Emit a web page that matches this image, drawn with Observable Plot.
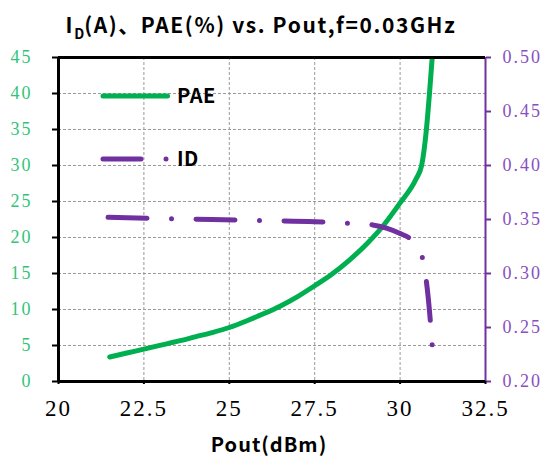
<!DOCTYPE html>
<html>
<head>
<meta charset="utf-8">
<script src="https://cdn.jsdelivr.net/npm/d3@7"></script>
<script src="https://cdn.jsdelivr.net/npm/@observablehq/plot@0.6"></script>
<style>
  html, body { margin: 0; padding: 0; background: white; }
  #wrap { position: relative; width: 549px; height: 460px; overflow: hidden; background: white; }
  #title { position: absolute; left: 0; top: 14px; width: 522px; text-align: center;
    font-family: "Noto Sans CJK SC", sans-serif; font-weight: bold; font-size: 21px; letter-spacing: 1.6px; line-height: 1; color: #000; white-space: nowrap; }
  #title .sub { font-size: 14px; position: relative; top: 6px; letter-spacing: 0; }
  #chart { position: absolute; left: 0; top: 46px; }
  #xlabel { position: absolute; left: 169px; width: 200px; top: 434px; text-align: center;
    font-family: "Noto Sans CJK SC", sans-serif; font-weight: bold; font-size: 20px; letter-spacing: 1px; line-height: 1; color: #000; }
  #legend { position: absolute; left: 0; top: 0; pointer-events: none; }
</style>
</head>
<body>
<div id="wrap">
  <div id="title">I<span class="sub">D</span>(A)、PAE(%) vs. Pout,f=0.03GHz</div>
  <div id="chart"></div>
  <div id="xlabel">Pout(dBm)</div>
  <svg id="legend" width="549" height="460"></svg>
</div>
<script>
// ---- data ----
const paeX = [21.5, 22, 22.5, 23, 23.5, 24, 24.5, 25, 25.5, 26, 26.5, 27, 27.5, 28, 28.5, 29, 29.5, 30, 30.47, 30.63, 30.77, 30.86, 30.94];
const paeY = [3.4, 3.95, 4.5, 5.05, 5.6, 6.2, 6.8, 7.5, 8.4, 9.4, 10.5, 11.8, 13.3, 14.9, 16.8, 19.0, 21.6, 24.8, 28.15, 30.0, 35, 40, 45];
const idX = [21.45, 23, 24.5, 26, 27.5, 28.5, 29.2, 29.6, 30.0, 30.3, 30.5, 30.65, 30.76, 30.88, 30.94];
const idY = [0.352, 0.351, 0.350, 0.349, 0.348, 0.3465, 0.345, 0.342, 0.337, 0.332, 0.324, 0.315, 0.295, 0.258, 0.233];
const xTicks = [20, 22.5, 25, 27.5, 30, 32.5];
const leftTicks = [0, 5, 10, 15, 20, 25, 30, 35, 40, 45];
const rightTicks = [0.20, 0.25, 0.30, 0.35, 0.40, 0.45, 0.50];
const seriesNames = ["PAE", "ID"];

const green = "#00b050";
const greenText = "#33c47a";
const purple = "#7030a0";
const purpleText = "#8a4fbf";

const idMin = 0.2, idMax = 0.5, leftMax = 45;
const idToLeft = v => (v - idMin) / (idMax - idMin) * leftMax;
const leftToId = v => v / leftMax * (idMax - idMin) + idMin;

const pae = paeX.map((x, i) => ({x, y: paeY[i]}));
const ids = idX.map((x, i) => ({x, y: idY[i]}));

const gridStyle = {stroke: "#9a9a9a", strokeOpacity: 1, strokeDasharray: "3,2", strokeWidth: 1};
const tickFont = "'Liberation Serif', serif";
const idDash = "39,24.5,0,24.5";

const chart = Plot.plot({
  width: 549,
  height: 414,
  marginLeft: 58,
  marginRight: 64,
  marginTop: 11,
  marginBottom: 79,
  style: {background: "white", overflow: "visible", fontFamily: tickFont},
  x: {domain: [20, 32.5]},
  y: {domain: [0, 45]},
  marks: [
    Plot.gridX(xTicks.slice(1, -1), gridStyle),
    Plot.gridY(leftTicks.slice(1, -1), gridStyle),
    Plot.axisY(leftTicks, {anchor: "left", tickSize: 6, tickPadding: 20, stroke: "black", strokeWidth: 2, fill: greenText,
      fontSize: 18, fontFamily: tickFont, label: null, tickFormat: d => String(d)}),
    Plot.axisY(rightTicks.map(idToLeft), {anchor: "right", tickSize: 5, tickPadding: 12, stroke: purple, strokeWidth: 2, fill: purpleText,
      fontSize: 18, fontFamily: tickFont, label: null, tickFormat: v => leftToId(v).toFixed(2)}),
    Plot.axisX(xTicks, {anchor: "bottom", tickSize: 3, tickPadding: 15, stroke: "black", strokeWidth: 2, fill: "black",
      fontSize: 23, fontFamily: tickFont, label: null, tickFormat: d => String(d)}),
    Plot.line(pae, {x: "x", y: "y", stroke: green, strokeWidth: 5, curve: "monotone-x", clip: true}),
    Plot.line(ids, {x: "x", y: d => idToLeft(d.y), stroke: purple, strokeWidth: 5, curve: "monotone-x",
      strokeDasharray: idDash, strokeLinecap: "round"}),
    Plot.ruleX([32.5], {stroke: purple, strokeWidth: 2}),
    Plot.ruleX([20], {stroke: "black", strokeWidth: 3}),
    Plot.ruleY([0], {stroke: "black", strokeWidth: 3}),
    Plot.ruleY([45], {stroke: "black", strokeWidth: 3})
  ]
});
document.getElementById("chart").appendChild(chart);

// enforce tick label fonts (inline style wins over any stylesheet)
chart.querySelectorAll("text").forEach(t => {
  const g = t.closest("[text-anchor]");
  const anchor = g ? g.getAttribute("text-anchor") : t.getAttribute("text-anchor");
  t.style.fontFamily = tickFont;
  if (anchor === "middle") { t.style.fontSize = "23px"; t.style.letterSpacing = "2px"; }
  else { t.style.fontSize = "18px"; t.style.letterSpacing = "2px"; }
});

// ---- legend (inside plot area) ----
const lg = d3.select("#legend");
const items = [
  {name: seriesNames[0], color: green, y: 96, x2: 167.5, dash: null},
  {name: seriesNames[1], color: purple, y: 159, x2: 168, dash: "38,25,0,100"}
];
items.forEach(it => {
  const ln = lg.append("line").attr("x1", 103).attr("x2", it.x2).attr("y1", it.y).attr("y2", it.y)
    .attr("stroke", it.color).attr("stroke-width", 5).attr("stroke-linecap", "round");
  if (it.dash) ln.attr("stroke-dasharray", it.dash);
  lg.append("text").attr("x", 177).attr("y", it.y + 7).text(it.name)
    .attr("font-family", "Noto Sans CJK SC, sans-serif").attr("font-weight", "bold").attr("font-size", 20)
    .attr("letter-spacing", 0.5).attr("fill", "black");
});
</script>
</body>
</html>
